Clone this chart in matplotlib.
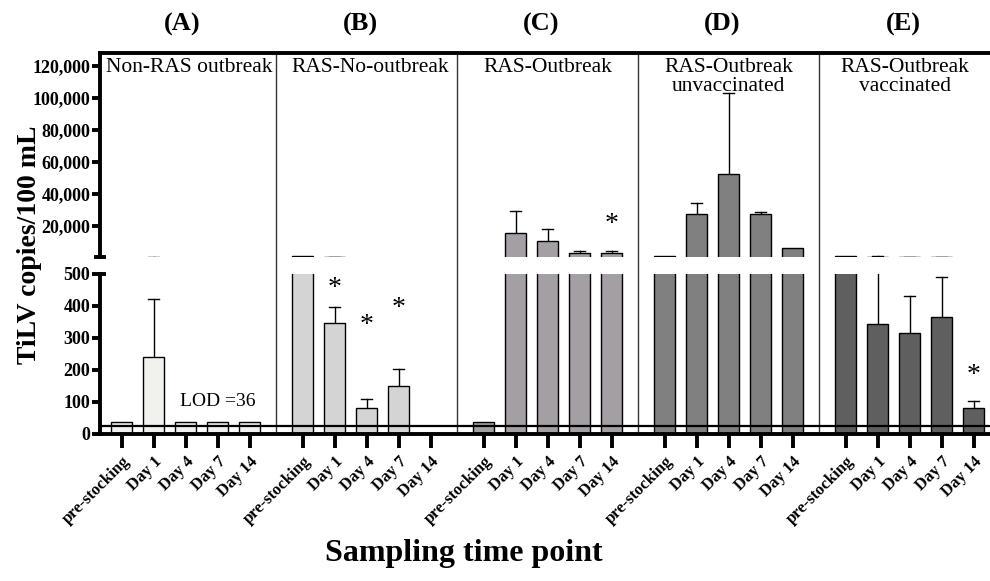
import matplotlib.pyplot as plt

# TiLV copies per group and sampling time point (broken y axis)
timepoints = ['pre-stocking', 'Day 1', 'Day 4', 'Day 7', 'Day 14']
panel_tags = ['(A)', '(B)', '(C)', '(D)', '(E)']
panel_names = ['Non-RAS outbreak', 'RAS-No-outbreak', 'RAS-Outbreak',
               'RAS-Outbreak\nunvaccinated', 'RAS-Outbreak\nvaccinated']

non_ras = [36, 242, 36, 36, 36]
non_ras_err = [0, 421, 0, 0, 0]
ras_no_outbreak = [1000, 348, 81, 150, 0]
ras_no_outbreak_err = [0, 396, 109, 204, 0]
ras_outbreak = [36, 15600, 10800, 3000, 3000]
ras_outbreak_err = [0, 29600, 18100, 4600, 4600]
unvaccinated = [1000, 27500, 52300, 27500, 6400]
unvaccinated_err = [0, 34200, 102900, 28900, 0]
vaccinated = [1000, 345, 315, 365, 82]
vaccinated_err = [0, 1000, 431, 490, 102]

# significance stars: (group, time index, y value)
stars = [(1, 1, 455), (1, 2, 338), (1, 3, 391), (2, 4, 21000), (4, 4, 182)]

lod = 36
lod_line = 25

groups = [non_ras, ras_no_outbreak, ras_outbreak, unvaccinated, vaccinated]
group_errs = [non_ras_err, ras_no_outbreak_err, ras_outbreak_err,
              unvaccinated_err, vaccinated_err]
colors = ['#f1f1ed', '#d4d4d4', '#a39fa4', '#808080', '#5f5f5f']

plt.rcParams['font.family'] = ['Liberation Serif', 'DejaVu Serif']

stride = 5.656
xlim = (-0.68, 27.13)
name_shift = [0.12, 0.1, 0.0, 0.0, -0.15]
tag_shift = [-0.1, -0.2, -0.2, -0.2, -0.2]


def xpos(g, i):
    return g * stride + i


fig = plt.figure(figsize=(9.9, 5.81), dpi=100)
W, H = 990.0, 581.0
left = 100 / W
width = 1 - left
ax_bg = fig.add_axes([left, 1 - 434 / H, width, (434 - 53) / H])
ax_top = fig.add_axes([left, 1 - 257 / H, width, (257 - 53) / H])
ax_bot = fig.add_axes([left, 1 - 434 / H, width, (434 - 274) / H])
ax_bg.set_xlim(*xlim)
ax_bg.axis('off')

# group separators running through both segments
for g in range(1, 5):
    ax_bg.axvline(g * stride - (stride - 4) / 2, color='#333333', lw=1.0)

for ax in (ax_top, ax_bot):
    ax.set_facecolor('none')
    for g, (vals, errs) in enumerate(zip(groups, group_errs)):
        xs = [xpos(g, i) for i in range(5)]
        ax.bar(xs, vals, width=0.66, color=colors[g], edgecolor='black',
               linewidth=1.0, zorder=2)
        for x, v, e in zip(xs, vals, errs):
            if e > v:
                ax.plot([x, x], [v, e], color='black', lw=1.0, zorder=1)
                ax.plot([x - 0.17, x + 0.17], [e, e], color='black', lw=1.0,
                        zorder=1)
    ax.set_xlim(*xlim)
    ax.spines['right'].set_visible(False)
    ax.spines['left'].set_linewidth(2.8)
    ax.tick_params(axis='y', direction='out', length=6, width=2.8,
                   labelsize=13, pad=1)

ax_top.set_ylim(600, 128000)
ax_top.spines['bottom'].set_visible(False)
ax_top.spines['top'].set_linewidth(2.8)
ax_top.set_xticks([])
ax_top.set_yticks([20000, 40000, 60000, 80000, 100000, 120000])
ax_top.set_yticklabels(['{:,}'.format(v) for v in ax_top.get_yticks()],
                       fontweight='bold')
ax_top.plot([-0.007, 0.007], [0, 0], transform=ax_top.transAxes,
            color='black', lw=2.8, clip_on=False, solid_capstyle='butt')

ax_bot.set_ylim(0, 500)
ax_bot.spines['top'].set_visible(False)
ax_bot.spines['bottom'].set_linewidth(2.8)
ax_bot.set_yticks([0, 100, 200, 300, 400, 500])
ax_bot.set_yticklabels([str(v) for v in ax_bot.get_yticks()], fontweight='bold')
ax_bot.plot([0, 0.007], [1, 1], transform=ax_bot.transAxes,
            color='black', lw=2.8, clip_on=False, solid_capstyle='butt')
ax_bot.axhline(lod_line, color='black', lw=1.6, zorder=3)
ax_bot.text(xpos(0, 3), 100, 'LOD =' + str(lod), ha='center', va='center',
            fontsize=14)

xticks = [xpos(g, i) for g in range(5) for i in range(5)]
ax_bot.set_xticks(xticks)
ax_bot.set_xticklabels(timepoints * 5, rotation=45, ha='right',
                       rotation_mode='anchor', fontweight='bold', fontsize=12)
ax_bot.tick_params(axis='x', direction='out', length=10, width=2.8, pad=4)

for g in range(5):
    cx = xpos(g, 2)
    ax_top.text(cx + tag_shift[g], 1.14, panel_tags[g],
                transform=ax_top.get_xaxis_transform(),
                ha='center', va='center', fontsize=19, fontweight='bold')
    ax_top.text(cx + name_shift[g], 0.975, panel_names[g],
                transform=ax_top.get_xaxis_transform(),
                ha='center', va='top', fontsize=15.5, linespacing=1.0)

for g, i, y in stars:
    ax = ax_top if y > 500 else ax_bot
    ax.text(xpos(g, i), y, '*', ha='center', va='center', fontsize=20)

fig.text(0.03, 1 - 245 / H, 'TiLV copies/100 mL', rotation=90,
         ha='center', va='center', fontsize=20, fontweight='bold')
fig.text(0.468, 1 - 553 / H, 'Sampling time point', ha='center',
         va='center', fontsize=23, fontweight='bold')

fig.savefig('out.png', dpi=100)
